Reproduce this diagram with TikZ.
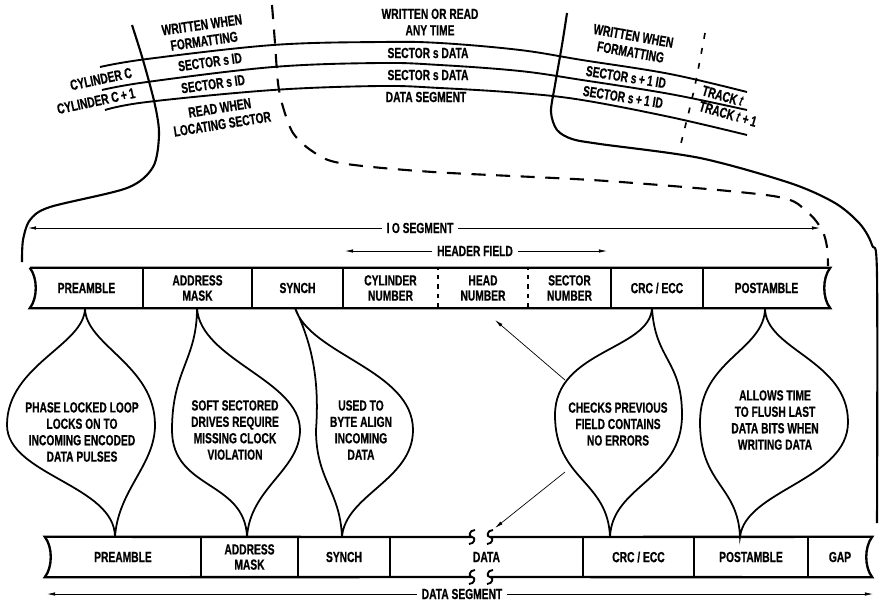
\documentclass[tikz,border=0pt]{standalone}
\usepackage{fontspec}
\setmainfont{Liberation Sans}[FakeStretch=0.7, BoldFeatures={FakeBold=0.6}]
\usepackage{tikz}
\usetikzlibrary{arrows.meta}
\tikzset{
  lbl/.style={font=\bfseries\fontsize{12.5}{14}\selectfont, align=center, inner sep=1pt},
  cell/.style={lbl, font=\bfseries\fontsize{12.5}{13}\selectfont, minimum height=1.2cm, inner sep=0pt},
  bubtext/.style={lbl, font=\bfseries\fontsize{12.5}{14}\selectfont},
  dimlabel/.style={lbl, inner xsep=4pt, inner ysep=0pt},
  barline/.style={line width=2pt},
  divider/.style={line width=1.6pt},
  dotdiv/.style={line width=1.6pt, dash pattern=on 4pt off 4pt, dash phase=2pt},
  bubble/.style={line width=1.5pt},
  track/.style={line width=1.6pt},
  sector/.style={line width=1.8pt},
  gapline/.style={line width=1.8pt, dash pattern=on 12pt off 9pt},
  trackgap/.style={line width=1.4pt, dash pattern=on 5pt off 8pt},
  dimarrow/.style={-{Latex[length=7pt,width=3pt]}, line width=0.6pt},
  ptr/.style={-{Latex[length=7pt,width=3pt]}, line width=0.6pt},
}

\begin{document}
\begin{tikzpicture}[x=0.03cm, y=-0.03cm]
  \useasboundingbox (0,0) rectangle (879,602);

  % Tracks across the disk surface
  \draw[track] plot[smooth, tension=0.6] coordinates {(100,67) (147,59) (273,45) (380,42) (440,43) (520,50) (582,60) (670,74) (747,92)};
  \draw[track] plot[smooth, tension=0.6] coordinates {(102,90) (147,82) (273,67) (380,63) (440,65) (520,71) (582,80) (670,94) (747,110)};
  \draw[track] plot[smooth, tension=0.6] coordinates {(105,110) (147,102) (273,90) (380,86) (440,88) (520,93) (582,100) (670,117) (747,135)};

  % Sector boundaries - solid ones run down to the bars
  \draw[sector] plot[smooth, tension=0.5] coordinates {(132,25) (143,60) (155,105) (159,135) (153,167) (127,188) (50,207) (30,220) (23,240) (22,262)};
  \draw[sector] plot[smooth, tension=0.5] coordinates {(567,13) (562,45) (555,85) (551,112) (557,130) (572,139) (600,144) (700,158) (790,183) (835,203) (860,224) (872,245) (877,275) (877,523)};
  \draw[gapline] plot[smooth, tension=0.5] coordinates {(272,5) (275,43) (278,83) (283,107) (293,133) (312,151) (340,163) (433,172) (607,181) (773,196) (807,212) (822,230) (827,247) (828,266)};
  \draw[trackgap] plot[smooth] coordinates {(705,33) (694,90) (680,147)};

  % Labels on the tracks
  \node[lbl, rotate=8] (fmtL) at (203,33) {WRITTEN WHEN\\FORMATTING};
  \node[lbl, rotate=8] (idL1) at (210,62) {SECTOR s ID};
  \node[lbl, rotate=8] (idL2) at (213,84) {SECTOR s ID};
  \node[lbl, rotate=9] (locate) at (221,116) {READ WHEN\\LOCATING SECTOR};
  \node[lbl, rotate=12] (cylC) at (101,79) {CYLINDER C};
  \node[lbl, rotate=12] (cylC1) at (96,101) {CYLINDER C\,+\,1};
  \node[lbl] (anytime) at (430,22) {WRITTEN OR READ\\ANY TIME};
  \node[lbl] (dataA) at (428,53) {SECTOR s DATA};
  \node[lbl] (dataB) at (428,75) {SECTOR s DATA};
  \node[lbl] (dseg) at (426,97) {DATA SEGMENT};
  \node[lbl, rotate=-10] (fmtR) at (632,44) {WRITTEN WHEN\\FORMATTING};
  \node[lbl, rotate=-9] (idR1) at (626,77) {SECTOR s\,+\,1 ID};
  \node[lbl, rotate=-9] (idR2) at (623,97) {SECTOR s\,+\,1 ID};
  \node[lbl, rotate=-16] (trk) at (723,96) {TRACK \textit{t}};
  \node[lbl, rotate=-16] (trk1) at (728,114) {TRACK \textit{t}\,+\,1};

  % IO segment bar
  \foreach \l/\r/\n/\t in {30/143/hpre/PREAMBLE, 143/252/hadr/{ADDRESS\\MASK}, 252/343/hsyn/SYNCH,
      343/438/hcyl/{CYLINDER\\NUMBER}, 438/528/hhead/{HEAD\\NUMBER}, 528/611/hsec/{SECTOR\\NUMBER},
      611/703/hcrc/{CRC / ECC}, 703/830/hpost/POSTAMBLE}
    \node[cell, minimum width={(\r-\l)*0.03cm}] (\n) at ({(\l+\r)/2},288) {\t};
  \draw[barline] (hpre.north west) -- (hpost.north east) .. controls +(-8,10) and +(-8,-10) .. (hpost.south east)
    -- (hpre.south west) .. controls +(8,-10) and +(8,10) .. (hpre.north west);
  \foreach \n in {hpre,hadr,hsyn,hsec,hcrc}
    \draw[divider] (\n.north east) -- (\n.south east);
  \foreach \n in {hcyl,hhead}
    \draw[dotdiv] (\n.north east) -- (\n.south east);

  % Data segment bar, broken inside the data field
  \foreach \l/\r/\n/\t in {45/201/bpre/PREAMBLE, 201/298/badr/{ADDRESS\\MASK}, 298/390/bsyn/SYNCH,
      390/583/bdat/DATA, 583/694/bcrc/{CRC / ECC}, 694/808/bpost/POSTAMBLE, 808/872/bgap/GAP}
    \node[cell, minimum width={(\r-\l)*0.03cm}] (\n) at ({(\l+\r)/2},557) {\t};
  \coordinate (brkTL) at (472,537); \coordinate (brkTR) at (490,537);
  \coordinate (brkBL) at (472,577); \coordinate (brkBR) at (490,577);
  \draw[barline] (brkTL) -- (bpre.north west) .. controls +(8,10) and +(8,-10) .. (bpre.south west) -- (brkBL);
  \draw[barline] (brkTR) -- (bgap.north east) .. controls +(-8,10) and +(-8,-10) .. (bgap.south east) -- (brkBR);
  \foreach \c in {brkTL,brkTR,brkBL,brkBR}
    \draw[divider] ([shift={(3,-7)}]\c) .. controls +(-6,0) and +(-4,0) .. (\c) .. controls +(4,0) and +(6,0) .. ([shift={(-3,7)}]\c);
  \foreach \n in {bpre,badr,bsyn,bdat,bcrc,bpost}
    \draw[divider] (\n.north east) -- (\n.south east);

  % Span arrows
  \node[dimlabel] (ioseg) at (420,228) {I\,O SEGMENT};
  \coordinate (ioL) at (28,228); \coordinate (ioR) at (820,228);
  \draw[dimarrow] (ioseg) -- (ioL);
  \draw[dimarrow] (ioseg) -- (ioR);
  \node[dimlabel] (hdr) at (475,251) {HEADER FIELD};
  \coordinate (hdrL) at (345,251); \coordinate (hdrR) at (607,251);
  \draw[dimarrow] (hdr) -- (hdrL);
  \draw[dimarrow] (hdr) -- (hdrR);
  \node[dimlabel] (dspan) at (462,594) {DATA SEGMENT};
  \coordinate (dsL) at (47,594); \coordinate (dsR) at (873,594);
  \draw[dimarrow] (dspan) -- (dsL);
  \draw[dimarrow] (dspan) -- (dsR);

  % Notes hanging between the two bars
  \draw[bubble] (85,308) .. controls (85,345) and (7,365) .. (7,425) .. controls (7,475) and (115,485) .. (115,537)
    .. controls (118,490) and (155,465) .. (155,425) .. controls (155,365) and (85,345) .. cycle;
  \draw[bubble] (197,308) .. controls (197,360) and (172,370) .. (172,430) .. controls (172,490) and (245,480) .. (247,537)
    .. controls (250,488) and (300,470) .. (300,430) .. controls (300,380) and (200,360) .. cycle;
  \draw[bubble] (295,308) .. controls (310,340) and (320,375) .. (316,430) .. controls (316,480) and (340,490) .. (342,537)
    .. controls (345,495) and (413,480) .. (413,430) .. controls (413,370) and (310,355) .. cycle;
  \draw[bubble] (652,308) .. controls (650,350) and (555,350) .. (555,415) .. controls (555,480) and (608,480) .. (610,537)
    .. controls (612,485) and (682,480) .. (682,415) .. controls (682,360) and (655,360) .. cycle;
  \draw[bubble] (765,308) .. controls (765,350) and (700,360) .. (700,422) .. controls (700,485) and (738,485) .. (740,537)
    .. controls (745,490) and (848,480) .. (848,422) .. controls (848,360) and (765,350) .. cycle;

  \node[bubtext] (pll) at (82,432) {PHASE LOCKED LOOP\\LOCKS ON TO\\INCOMING ENCODED\\DATA PULSES};
  \node[bubtext] (soft) at (235,430) {SOFT SECTORED\\DRIVES REQUIRE\\MISSING CLOCK\\VIOLATION};
  \node[bubtext] (align) at (361,430) {USED TO\\BYTE ALIGN\\INCOMING\\DATA};
  \node[bubtext] (check) at (618,424) {CHECKS PREVIOUS\\FIELD CONTAINS\\NO ERRORS};
  \node[bubtext] (flush) at (775,420) {ALLOWS TIME\\TO FLUSH LAST\\DATA BITS WHEN\\WRITING DATA};

  % Pointers from the CRC note
  \coordinate (chkUp) at (565,380); \coordinate (headPt) at (495,320);
  \coordinate (chkDn) at (565,472); \coordinate (breakPt) at (495,528);
  \draw[ptr] (chkUp) -- (headPt);
  \draw[ptr] (chkDn) -- (breakPt);

\end{tikzpicture}
\end{document}
